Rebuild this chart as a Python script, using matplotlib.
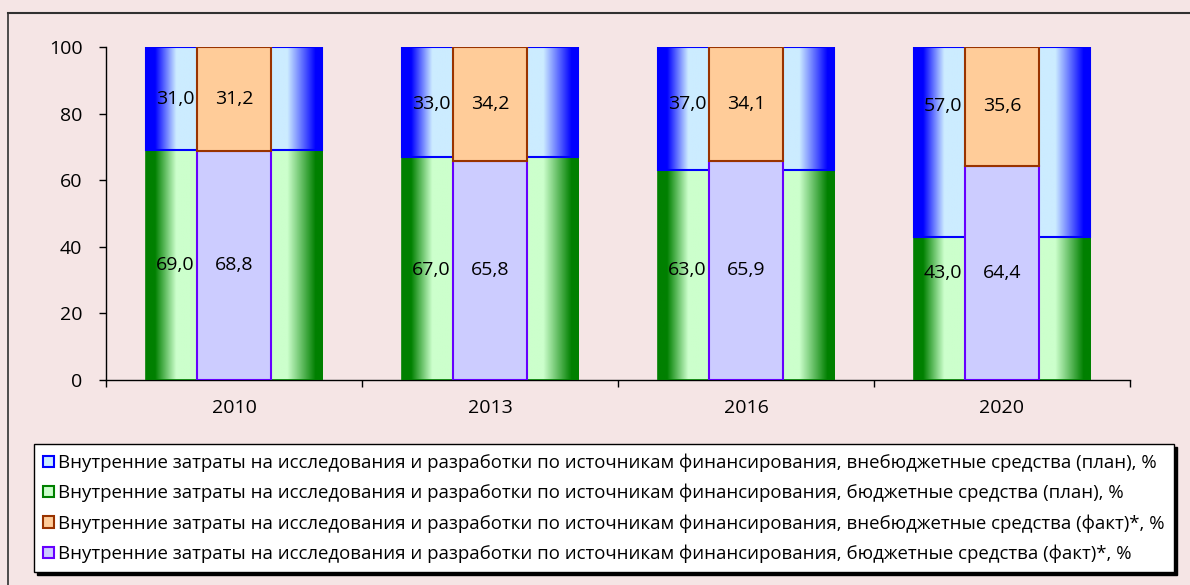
import numpy as np
import matplotlib
matplotlib.use("Agg")
import matplotlib.pyplot as plt
from matplotlib.colors import LinearSegmentedColormap
from matplotlib.patches import Patch
from matplotlib.lines import Line2D

years = ["2010", "2013", "2016", "2020"]
plan_budget = [69.0, 67.0, 63.0, 43.0]
plan_extra = [31.0, 33.0, 37.0, 57.0]
fact_budget = [68.8, 65.8, 65.9, 64.4]
fact_extra = [31.2, 34.2, 34.1, 35.6]
y_ticks = [0, 20, 40, 60, 80, 100]

legend_labels = [
    "Внутренние затраты на исследования и разработки по источникам финансирования, внебюджетные средства (план), %",
    "Внутренние затраты на исследования и разработки по источникам финансирования, бюджетные средства (план), %",
    "Внутренние затраты на исследования и разработки по источникам финансирования, внебюджетные средства (факт)*, %",
    "Внутренние затраты на исследования и разработки по источникам финансирования, бюджетные средства (факт)*, %",
]

BG = "#F5E5E5"
plt.rcParams["font.family"] = ["Open Sans", "DejaVu Sans"]

W, H = 1190, 585
fig = plt.figure(figsize=(W / 100, H / 100), dpi=100, facecolor=BG)
ax = fig.add_axes([106 / W, 1 - 380 / H, (1130 - 106) / W, (380 - 47) / H])
ax.set_facecolor(BG)

x = np.arange(len(years))
plan_w = 0.69
fact_w = 0.29


def grad_cmap(dark, light):
    stops = [(0.0, dark), (0.05, dark), (0.17, light), (0.80, light), (0.96, dark), (1.0, dark)]
    return LinearSegmentedColormap.from_list("g", stops)


green_cm = grad_cmap("#008000", "#CCFFCC")
blue_cm = grad_cmap("#0000FF", "#CCECFF")
ramp = np.linspace(0, 1, 256).reshape(1, -1)

b_green = ax.bar(x, plan_budget, plan_w, facecolor="none", edgecolor="#008000", lw=1.2, zorder=3)
b_blue = ax.bar(x, plan_extra, plan_w, bottom=plan_budget, facecolor="none", edgecolor="#0000FF", lw=1.5, zorder=3)
for bars, cm in [(b_green, green_cm), (b_blue, blue_cm)]:
    for p in bars:
        x0, y0 = p.get_x(), p.get_y()
        im = ax.imshow(ramp, cmap=cm, aspect="auto", interpolation="bilinear",
                       extent=[x0, x0 + p.get_width(), y0, y0 + p.get_height()], zorder=2)
        im.set_clip_path(p)

ax.bar(x, fact_budget, fact_w, facecolor="#CCCCFF", edgecolor="#6600FF", lw=1.5, zorder=4)
ax.bar(x, fact_extra, fact_w, bottom=fact_budget, facecolor="#FFCC99", edgecolor="#993300", lw=1.5, zorder=4)


def fmt(v):
    return f"{v:.1f}".replace(".", ",")


for i in range(len(years)):
    yb = fact_budget[i] / 2
    ye = fact_budget[i] + fact_extra[i] / 2
    ax.text(x[i], yb, fmt(fact_budget[i]), ha="center", va="center", fontsize=14, zorder=5)
    ax.text(x[i], ye, fmt(fact_extra[i]), ha="center", va="center", fontsize=14, zorder=5)
    ax.text(x[i] - 0.156, yb, fmt(plan_budget[i]), ha="right", va="center", fontsize=14, zorder=5)
    ax.text(x[i] - 0.156, ye, fmt(plan_extra[i]), ha="right", va="center", fontsize=14, zorder=5)

ax.set_xlim(-0.5, len(years) - 0.5)
ax.set_ylim(0, 100)
ax.set_yticks(y_ticks)
ax.tick_params(axis="y", direction="out", length=5, width=1, pad=12, labelsize=14)
ax.set_xticks(np.arange(-0.5, len(years), 1.0))
ax.set_xticklabels([])
ax.set_xticks(x, minor=True)
ax.set_xticklabels(years, minor=True)
ax.tick_params(axis="x", which="major", direction="out", length=5, width=1)
ax.tick_params(axis="x", which="minor", length=0, pad=14, labelsize=14)
for s in ["top", "right"]:
    ax.spines[s].set_visible(False)
for s in ["left", "bottom"]:
    ax.spines[s].set_linewidth(1)

handles = [
    Patch(facecolor="#CCECFF", edgecolor="#0000FF", lw=1.5),
    Patch(facecolor="#CCFFCC", edgecolor="#008000", lw=1.5),
    Patch(facecolor="#FFCC99", edgecolor="#993300", lw=1.5),
    Patch(facecolor="#CCCCFF", edgecolor="#6600FF", lw=1.5),
]
leg = fig.legend(handles, legend_labels, loc="upper left", bbox_to_anchor=(34 / W, 1 - 444 / H),
                 borderaxespad=0, fontsize=13.4, frameon=True, fancybox=False,
                 handlelength=0.55, handleheight=0.55, handletextpad=0.25, labelspacing=0.64,
                 borderpad=0.5, shadow={"facecolor": "black", "edgecolor": "black", "alpha": 1})
leg.get_frame().set_edgecolor("black")
leg.get_frame().set_linewidth(1)
leg.get_frame().set_facecolor("white")

# outer chart border (cut off at right and bottom)
fig.add_artist(Line2D([8 / W, 1], [1 - 13 / H] * 2, transform=fig.transFigure, color="#303030", lw=1.5))
fig.add_artist(Line2D([8 / W] * 2, [0, 1 - 13 / H], transform=fig.transFigure, color="#303030", lw=1.2))

fig.savefig("out.png", dpi=100, facecolor=BG)
